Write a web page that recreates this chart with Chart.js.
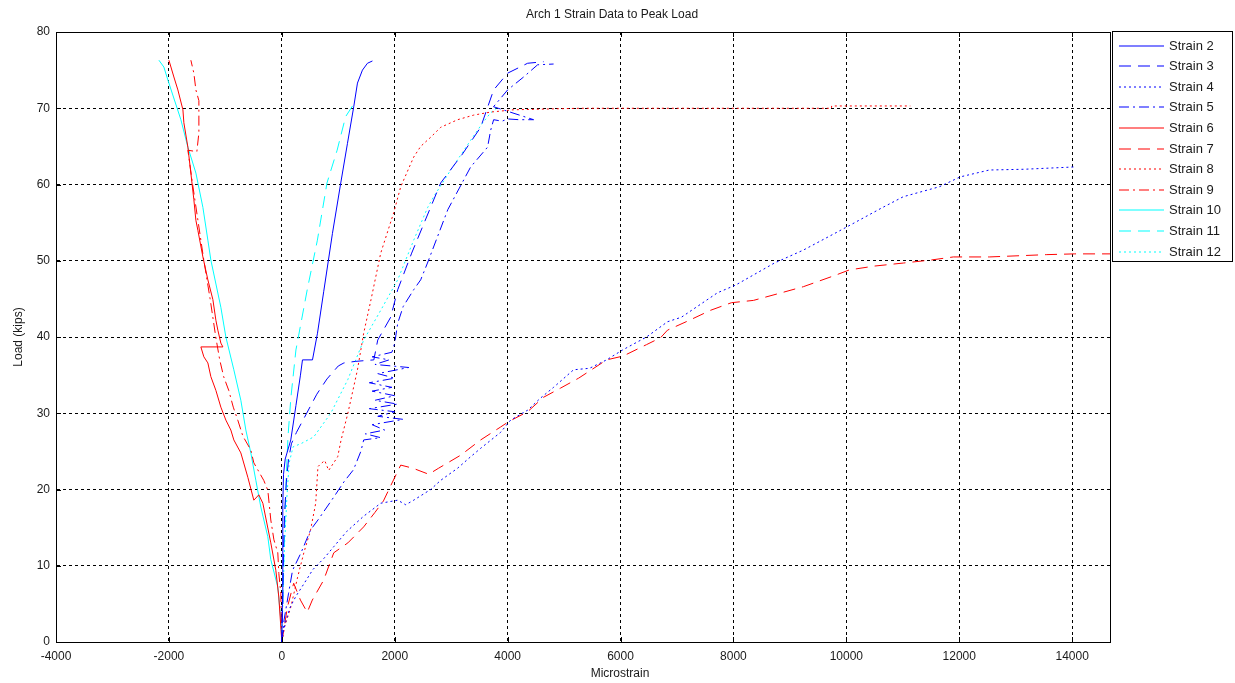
<!DOCTYPE html>
<html>
<head>
<meta charset="utf-8">
<script src="https://cdn.jsdelivr.net/npm/chart.js@4.4.0/dist/chart.umd.min.js"></script>
<style>
  html, body { margin: 0; padding: 0; background: #fff; overflow: hidden; }
  canvas { display: block; }
</style>
</head>
<body>
<canvas id="chart" width="1235" height="683"></canvas>
<script>
// tick values
const xTicks = [-4000, -2000, 0, 2000, 4000, 6000, 8000, 10000, 12000, 14000];
const yTicks = [0, 10, 20, 30, 40, 50, 60, 70, 80];

// Strain 2 - blue solid
const s2Strain = [0, 10, 15, 20, 30, 60, 159, 250, 330, 366, 543, 632, 743, 897, 1044, 1163, 1274, 1340, 1428, 1517, 1605];
const s2Load   = [0, 5, 12, 18, 22, 24, 26.5, 31, 35, 37, 37, 40.5, 46, 53.6, 60.2, 65.4, 70.2, 73.3, 75, 75.9, 76.2];

// Strain 3 - blue dashed
const s3Strain = [0, 15, 30, 50, 80, 120, 170, 260, 440, 620, 800, 1000, 1100, 1300, 1630, 1699, 1929, 2053, 2300, 2814, 3200, 3522, 3752, 4000, 4354, 4637];
const s3Load   = [0, 6, 12, 17, 21, 24, 26, 27.5, 30, 32.5, 34.5, 36.2, 36.6, 36.8, 37, 39.6, 42.6, 46.2, 51, 60.2, 64, 67.5, 72.4, 74.6, 75.9, 76.1];

// Strain 4 - blue dotted
const s4Strain = [0, 30, 80, 150, 250, 380, 550, 750, 920, 1150, 1450, 1752, 2053, 2195, 2336, 2637, 2814, 3115, 3345, 3522, 3876, 4053, 4354, 4584, 4814, 5168, 5452, 5753, 6036, 6460, 6832, 7080, 7717, 8036, 8726, 9239, 10000, 10620, 11009, 11647, 12018, 12532, 13151, 14036];
const s4Load   = [0, 1.5, 3, 4.6, 6, 7.5, 9.5, 11, 12.5, 14.5, 16.5, 18.2, 18.6, 18, 18.6, 20, 21.2, 22.8, 24.3, 25.4, 27.5, 29.1, 30.4, 32, 33.4, 35.7, 35.9, 37, 38.3, 40, 42, 42.6, 45.8, 46.8, 49.7, 51.4, 54.4, 56.9, 58.4, 59.7, 61, 61.9, 62, 62.3];

// Strain 5 - blue dash-dot
const s5Strain = [0, 40, 120, 190, 340, 510, 640, 920, 1100, 1270, 1400, 1450, 1750, 1480, 1820, 1600, 2150, 1700, 2000, 1550, 2050, 1650, 2000, 1600, 1950, 1550, 2000, 1700, 2250, 1650, 1900, 1600, 1950, 2000, 2053, 2150, 2336, 2460, 2580, 2940, 3345, 3645, 3699, 3752, 3900, 4000, 4200, 4460, 3750, 4000, 4283, 4531, 4814];
const s5Load   = [0, 2.9, 6.4, 9.4, 11.7, 14.7, 16, 19, 21, 22.6, 25, 26.5, 26.8, 27.3, 27.8, 28.5, 29.2, 29.6, 30.2, 30.6, 31.2, 31.7, 32.3, 32.9, 33.4, 34, 34.6, 35.2, 36, 36.4, 37, 37.4, 38, 39.2, 41.8, 44, 46.2, 47.5, 49.7, 56.7, 62.3, 64.9, 67.1, 68.5, 68.3, 68.6, 68.5, 68.5, 70.2, 72.4, 74.1, 75.7, 75.8];

// Strain 6 - red solid
const s6Strain = [0, -53, -106, -195, -336, -407, -496, -602, -726, -850, -903, -991, -1080, -1168, -1257, -1310, -1381, -1434, -1044, -1080, -1133, -1168, -1221, -1310, -1398, -1487, -1522, -1558, -1611, -1664, -1735, -1752, -1841, -1912, -2000];
const s6Load   = [0, 5.9, 9.4, 13, 18.2, 19.3, 18.6, 21.6, 24.8, 26.5, 27.8, 29.1, 30.8, 33, 34.8, 36.6, 37.4, 38.7, 38.7, 39.2, 40.9, 42.2, 44.9, 47.5, 50.5, 54, 55.3, 58, 61.5, 64.9, 68.1, 69.8, 72.4, 74.1, 76.3];

// Strain 7 - red dashed
const s7Strain = [0, 100, 210, 330, 450, 540, 740, 920, 1170, 1450, 1650, 1800, 1929, 2106, 2319, 2602, 2779, 3168, 3522, 3876, 4018, 4354, 4637, 4938, 5257, 5753, 6045, 6460, 6708, 6832, 7222, 7593, 7965, 8354, 8850, 9239, 9806, 10054, 10496, 11009, 11505, 11894, 12532, 13540, 14036, 14900];
const s7Load   = [0, 4.6, 7.7, 5.5, 3.9, 5.5, 8.1, 11.7, 13, 15.1, 17, 18.5, 20.5, 23.2, 22.8, 22, 22.8, 24.5, 26.5, 28.2, 28.9, 30.2, 32.1, 33.3, 34.6, 37, 37.5, 39, 39.9, 40.9, 42.2, 43.5, 44.5, 44.8, 45.8, 46.6, 48.1, 48.8, 49.3, 49.7, 50.1, 50.5, 50.5, 50.8, 50.9, 50.9];

// Strain 8 - red dotted
const s8Strain = [0, 50, 160, 280, 390, 510, 600, 640, 680, 760, 830, 990, 1050, 1170, 1340, 1450, 1580, 1752, 1982, 2106, 2336, 2460, 2637, 2814, 3115, 3398, 3699, 4106, 5292, 9735, 9740, 11133];
const s8Load   = [0, 2, 4.6, 8.5, 11.7, 14.7, 18.2, 23, 23.3, 23.8, 22.5, 24.3, 26.5, 30, 35.7, 40.5, 44.9, 51, 56.3, 59.7, 63.6, 65, 66.2, 67.5, 68.5, 69.1, 69.5, 69.8, 70, 70, 70.3, 70.3];

// Strain 9 - red dash-dot
const s9Strain = [0, -18, -53, -71, -140, -195, -248, -320, -496, -550, -690, -780, -860, -940, -1030, -1100, -1170, -1270, -1380, -1480, -1580, -1664, -1505, -1469, -1469, -1522, -1558, -1611];
const s9Load   = [0, 6.4, 9, 11.7, 13.4, 16, 19.9, 21.2, 23.5, 25.2, 27, 29.1, 30.8, 33, 34.8, 37, 40, 45, 50, 55, 60, 64.5, 64.3, 66.8, 71, 72.4, 74.6, 76.3];

// Strain 10 - cyan solid
const s10Strain = [0, -18, -71, -195, -248, -372, -460, -549, -637, -726, -850, -991, -1080, -1257, -1310, -1398, -1522, -1664, -1788, -2018, -2089, -2177];
const s10Load   = [0, 2.9, 7.2, 10.8, 13.8, 17.7, 21.2, 24.8, 27.8, 31.7, 35.7, 40, 43.9, 50.1, 52.7, 57, 61.5, 64.9, 68.5, 73.7, 75.4, 76.3];

// Strain 11 - cyan dashed
const s11Strain = [0, 20, 40, 60, 80, 110, 160, 250, 450, 630, 800, 980, 1130, 1270];
const s11Load   = [0, 6, 12, 17, 22, 27, 32, 38.3, 46.2, 52.7, 60.2, 64.5, 68.9, 70.5];

// Strain 12 - cyan dotted
const s12Strain = [0, 20, 50, 90, 130, 200, 336, 566, 867, 1168, 1451, 1752, 2053, 2336, 2584, 2690, 3000, 3345, 3550, 3699, 3800];
const s12Load   = [0, 6, 13, 19, 23.5, 25.6, 26, 26.9, 30, 34.4, 39.6, 43.5, 47.5, 52.7, 57, 58.4, 62, 65.8, 68, 69.4, 70];

const BLUE = '#0000ff', RED = '#ff0000', CYAN = '#00ffff';
const SOLID = [], DASH = [12, 7], DOT = [2, 3], DASHDOT = [10, 4, 2, 4];

const series = [
  ['Strain 2', s2Strain, s2Load, BLUE, SOLID],
  ['Strain 3', s3Strain, s3Load, BLUE, DASH],
  ['Strain 4', s4Strain, s4Load, BLUE, DOT],
  ['Strain 5', s5Strain, s5Load, BLUE, DASHDOT],
  ['Strain 6', s6Strain, s6Load, RED, SOLID],
  ['Strain 7', s7Strain, s7Load, RED, DASH],
  ['Strain 8', s8Strain, s8Load, RED, DOT],
  ['Strain 9', s9Strain, s9Load, RED, DASHDOT],
  ['Strain 10', s10Strain, s10Load, CYAN, SOLID],
  ['Strain 11', s11Strain, s11Load, CYAN, DASH],
  ['Strain 12', s12Strain, s12Load, CYAN, DOT]
];

const datasets = series.map(([label, xs, ys, color, dash]) => ({
  label: label,
  data: xs.map((x, i) => ({ x: x, y: ys[i] })),
  borderColor: color,
  backgroundColor: color,
  borderWidth: 1,
  borderDash: dash,
  pointRadius: 0,
  showLine: true,
  tension: 0,
  fill: false
}));

const FONT = '"Liberation Sans", Arial, sans-serif';
Chart.defaults.font.family = FONT;
Chart.defaults.color = '#1a1a1a';

// box, inner ticks, titles and legend drawn like the MATLAB figure
const figureDecor = {
  id: 'figureDecor',
  afterDraw(chart) {
    const { ctx, chartArea: a, scales } = chart;
    ctx.save();
    ctx.setLineDash([]);
    ctx.strokeStyle = '#000';
    ctx.lineWidth = 1;
    ctx.strokeRect(Math.round(a.left) + 0.5, Math.round(a.top) + 0.5, Math.round(a.right - a.left), Math.round(a.bottom - a.top));

    ctx.beginPath();
    xTicks.forEach(v => {
      const px = Math.round(scales.x.getPixelForValue(v)) + 0.5;
      ctx.moveTo(px, a.bottom); ctx.lineTo(px, a.bottom - 5);
      ctx.moveTo(px, a.top); ctx.lineTo(px, a.top + 5);
    });
    yTicks.forEach(v => {
      const py = Math.round(scales.y.getPixelForValue(v)) + 0.5;
      ctx.moveTo(a.left, py); ctx.lineTo(a.left + 5, py);
    });
    ctx.stroke();

    ctx.fillStyle = '#1a1a1a';
    ctx.font = '12px ' + FONT;
    ctx.textAlign = 'center';
    ctx.textBaseline = 'middle';
    ctx.fillText('Arch 1 Strain Data to Peak Load', 612, 15);
    ctx.fillText('Microstrain', 620, 674);

    // legend
    const lx = 1112.5, ly = 31.5, lw = 120, lh = 230;
    ctx.fillStyle = '#fff';
    ctx.fillRect(lx, ly, lw, lh);
    ctx.strokeStyle = '#000';
    ctx.strokeRect(lx, ly, lw, lh);
    ctx.font = '13px ' + FONT;
    ctx.textAlign = 'left';
    series.forEach(([label, , , color, dash], i) => {
      const cy = Math.round(45.5 + i * 20.6);
      ctx.lineWidth = 1.2;
      ctx.strokeStyle = color;
      ctx.setLineDash(dash);
      ctx.beginPath();
      ctx.moveTo(1119, cy); ctx.lineTo(1164, cy);
      ctx.stroke();
      ctx.fillStyle = '#1a1a1a';
      ctx.fillText(label, 1169, cy);
    });
    ctx.restore();
  }
};

new Chart(document.getElementById('chart'), {
  type: 'scatter',
  data: { datasets: datasets },
  options: {
    responsive: false,
    animation: false,
    devicePixelRatio: 1,
    layout: { padding: { top: 32, right: 125, left: 0, bottom: 0 } },
    plugins: {
      legend: { display: false },
      title: { display: false },
      tooltip: { enabled: false }
    },
    scales: {
      x: {
        type: 'linear',
        min: -4000,
        max: 14670,
        afterBuildTicks: s => { s.ticks = xTicks.map(v => ({ value: v })); },
        afterFit: s => { s.height = 41; },
        grid: { color: '#000', drawTicks: false, lineWidth: 1 },
        border: { display: true, color: '#000', dash: [3, 3] },
        ticks: { padding: 7, font: { size: 12 }, maxRotation: 0, callback: v => String(v) }
      },
      y: {
        type: 'linear',
        min: 0,
        max: 80,
        afterBuildTicks: s => { s.ticks = yTicks.map(v => ({ value: v })); },
        afterFit: s => { s.width = 56; },
        grid: { color: '#000', drawTicks: false, lineWidth: 1 },
        border: { display: true, color: '#000', dash: [3, 3] },
        ticks: { padding: 6, font: { size: 12 } },
        title: { display: true, text: 'Load (kips)', font: { size: 12 }, padding: { top: 11, bottom: 0 } }
      }
    }
  },
  plugins: [figureDecor]
});
</script>
</body>
</html>
